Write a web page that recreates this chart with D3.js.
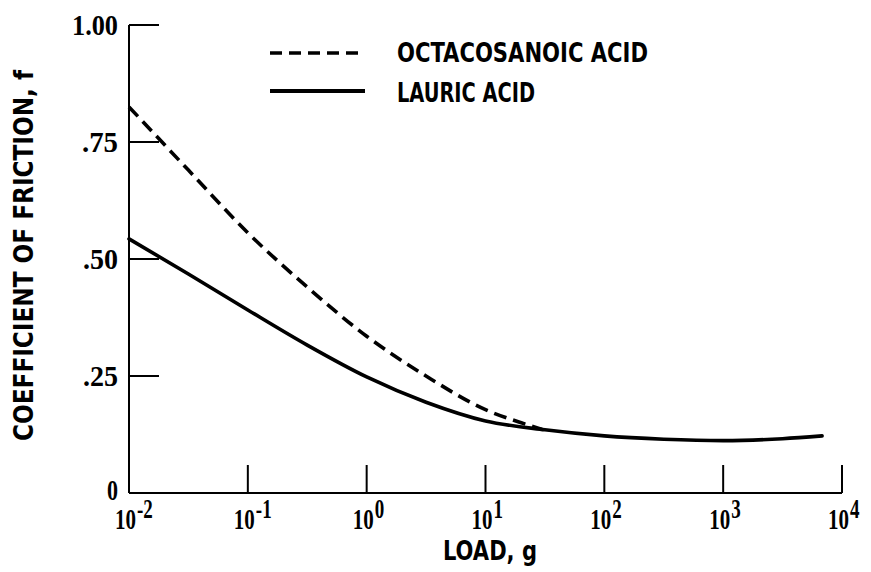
<!DOCTYPE html>
<html>
<head>
<meta charset="utf-8">
<script src="https://cdn.jsdelivr.net/npm/d3@7"></script>
<style>
  html, body { margin: 0; padding: 0; background: #fff; }
  svg { display: block; }
  text { fill: #000; }
</style>
</head>
<body>
<svg id="chart" width="871" height="572"></svg>
<script>
// ---------- data ----------
const octaLoads  = [0.01, 0.0316, 0.1, 0.316, 1, 3.16, 10, 20, 30];
const octaValues = [0.825, 0.69, 0.556, 0.44, 0.335, 0.25, 0.178, 0.150, 0.136];

const lauricLoads  = [0.01, 0.0316, 0.1, 0.316, 1, 3.16, 10, 31.6, 100, 316, 1000, 3160, 6800];
const lauricValues = [0.543, 0.468, 0.391, 0.316, 0.248, 0.194, 0.154, 0.135, 0.122, 0.115, 0.112, 0.116, 0.122];

const xTickValues = [0.01, 0.1, 1, 10, 100, 1000, 10000];
const xTickExps   = ["-2", "-1", "0", "1", "2", "3", "4"];
const yTickValues = [0, 0.25, 0.5, 0.75, 1.0];
const yTickLabels = ["0", ".25", ".50", ".75", "1.00"];

const seriesNames = ["OCTACOSANOIC ACID", "LAURIC ACID"];

// ---------- layout ----------
const svg = d3.select("#chart");
const x = d3.scaleLog().domain([1e-2, 1e4]).range([129, 842]);
const y = d3.scaleLinear().domain([0, 1]).range([493, 25]);
const FONT = "'Liberation Sans Narrow', 'DejaVu Sans Condensed', 'Roboto Condensed', sans-serif";
const NUMFONT = "'Liberation Serif', 'DejaVu Serif', serif";

// axes lines
const axisG = svg.append("g").attr("stroke", "#000").attr("stroke-width", 2).attr("fill", "none");
axisG.append("line").attr("x1", x(1e-2)).attr("x2", x(1e-2)).attr("y1", y(1)).attr("y2", y(0));
axisG.append("line").attr("x1", x(1e-2)).attr("x2", x(1e4)).attr("y1", y(0)).attr("y2", y(0));

// y ticks (inward)
axisG.selectAll("line.yt").data(yTickValues.filter(v => v > 0)).join("line")
  .attr("class", "yt")
  .attr("x1", x(1e-2)).attr("x2", x(1e-2) + 30)
  .attr("y1", d => y(d)).attr("y2", d => y(d));

// x ticks (upward)
axisG.selectAll("line.xt").data(xTickValues.slice(1)).join("line")
  .attr("class", "xt")
  .attr("x1", d => x(d)).attr("x2", d => x(d))
  .attr("y1", y(0)).attr("y2", y(0) - 28);

// y tick labels
svg.selectAll("text.yl").data(yTickValues).join("text")
  .attr("class", "yl")
  .attr("x", 118)
  .attr("y", (d, i) => y(d) + 10 - (i === 0 ? 3 : 0))
  .attr("text-anchor", "end")
  .attr("font-family", NUMFONT)
  .attr("font-weight", "bold")
  .attr("font-size", 30)
  .attr("textLength", (d, i) => [11, 35, 35, 36, 46][i])
  .attr("lengthAdjust", "spacingAndGlyphs")
  .text((d, i) => yTickLabels[i]);

// x tick labels: "10" with exponent, vertically stretched like the typed original
const xl = svg.selectAll("g.xl").data(xTickValues).join("g")
  .attr("class", "xl")
  .attr("transform", d => `translate(${x(d) - 14},529) scale(1,1.4)`);
xl.append("text")
  .attr("x", 0).attr("y", 0)
  .attr("font-family", NUMFONT)
  .attr("font-weight", "bold")
  .attr("font-size", 21)
  .text("10");
xl.append("text")
  .attr("x", 22).attr("y", -8)
  .attr("font-family", NUMFONT)
  .attr("font-weight", "bold")
  .attr("font-size", 19)
  .text((d, i) => xTickExps[i]);

// axis titles
svg.append("text")
  .attr("x", 443).attr("y", 560)
  .attr("font-family", FONT).attr("font-weight", "bold").attr("font-size", 27)
  .attr("textLength", 94).attr("lengthAdjust", "spacingAndGlyphs")
  .text("LOAD, g");

svg.append("text")
  .attr("transform", "translate(33,441) rotate(-90)")
  .attr("x", 0).attr("y", 0)
  .attr("font-family", FONT).attr("font-weight", "bold").attr("font-size", 27)
  .attr("textLength", 371).attr("lengthAdjust", "spacingAndGlyphs")
  .text("COEFFICIENT OF FRICTION, f");

// curves
const line = d3.line().x(d => x(d[0])).y(d => y(d[1])).curve(d3.curveMonotoneX);
const lauric = lauricLoads.map((l, i) => [l, lauricValues[i]]);
const octa = octaLoads.map((l, i) => [l, octaValues[i]]);

svg.append("path").datum(lauric).attr("d", line)
  .attr("fill", "none").attr("stroke", "#000").attr("stroke-width", 3.6).attr("stroke-linecap", "round");
svg.append("path").datum(octa).attr("d", line)
  .attr("fill", "none").attr("stroke", "#000").attr("stroke-width", 3.6)
  .attr("stroke-dasharray", "13,7");

// legend
const legend = svg.append("g");
legend.append("line").attr("x1", 270).attr("x2", 360).attr("y1", 53).attr("y2", 53)
  .attr("stroke", "#000").attr("stroke-width", 3.5).attr("stroke-dasharray", "12,7");
legend.append("line").attr("x1", 270).attr("x2", 365).attr("y1", 91).attr("y2", 91)
  .attr("stroke", "#000").attr("stroke-width", 4);
legend.append("text").attr("x", 397).attr("y", 62)
  .attr("font-family", FONT).attr("font-weight", "bold").attr("font-size", 27)
  .attr("textLength", 251).attr("lengthAdjust", "spacingAndGlyphs")
  .text(seriesNames[0]);
legend.append("text").attr("x", 397).attr("y", 102)
  .attr("font-family", FONT).attr("font-weight", "bold").attr("font-size", 27)
  .attr("textLength", 138).attr("lengthAdjust", "spacingAndGlyphs")
  .text(seriesNames[1]);
</script>
</body>
</html>
